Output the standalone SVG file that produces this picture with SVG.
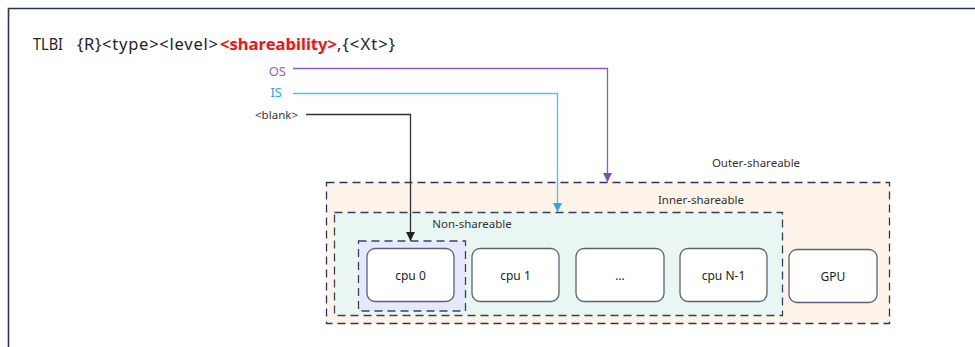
<svg xmlns="http://www.w3.org/2000/svg" width="975" height="347" viewBox="0 0 975 347">
  <defs>
    <marker id="arr-os" viewBox="0 0 10 10" refX="10" refY="5" markerWidth="7" markerHeight="7" orient="auto">
      <path d="M0,0 L10,5 L0,10 z" fill="#7b4db3"/>
    </marker>
    <marker id="arr-is" viewBox="0 0 10 10" refX="10" refY="5" markerWidth="7" markerHeight="7" orient="auto">
      <path d="M0,0 L10,5 L0,10 z" fill="#29ace3"/>
    </marker>
    <marker id="arr-nsh" viewBox="0 0 10 10" refX="10" refY="5" markerWidth="7" markerHeight="7" orient="auto">
      <path d="M0,0 L10,5 L0,10 z" fill="#222"/>
    </marker>
  </defs>
  <style>
    text { font-family: "Noto Sans", "Open Sans", "Liberation Sans", sans-serif; }
    .frame { stroke: #283163; stroke-width: 1.6; fill: none; }
    .domain { stroke-dasharray: 8 5; stroke-width: 1.3; }
    .dlabel { font-size: 11.5px; fill: #333; text-anchor: middle; }
    .core rect { fill: #fff; stroke: #5c6078; stroke-width: 1.3; }
    .core text { font-size: 12px; fill: #222; text-anchor: middle; }
    .conn { fill: none; stroke-width: 1.3; }
  </style>

  <rect width="975" height="347" fill="#fff"/>
  <path class="frame" d="M8.5,347 V8.5 H975"/>

  <!-- instruction syntax -->
  <g id="syntax" font-size="16.5" fill="#222">
    <text x="33" y="50" textLength="30" lengthAdjust="spacingAndGlyphs">TLBI</text>
    <text x="77" y="50" textLength="141" lengthAdjust="spacing">{R}&lt;type&gt;&lt;level&gt;</text>
    <text x="220" y="50" fill="#f01414" font-weight="bold" textLength="117" lengthAdjust="spacing">&lt;shareability&gt;</text>
    <text x="337" y="50" textLength="58" lengthAdjust="spacing">,{&lt;Xt&gt;}</text>
  </g>

  <!-- shareability option labels -->
  <g id="opt-os"><text x="286" y="76" font-size="13" fill="#9662c6" text-anchor="end">OS</text></g>
  <g id="opt-is"><text x="282" y="97" font-size="13" fill="#2aa9e0" text-anchor="end">IS</text></g>
  <g id="opt-blank"><text x="255" y="119" font-size="11.5" fill="#333" textLength="43" lengthAdjust="spacing">&lt;blank&gt;</text></g>

  <!-- shareability domains -->
  <g id="outer-shareable">
    <rect class="domain" x="326.5" y="182.5" width="563" height="141" fill="#fdf3e8" stroke="#2f3558"/>
    <text class="dlabel" x="756" y="167">Outer-shareable</text>
  </g>
  <g id="inner-shareable">
    <rect class="domain" x="334.5" y="212.5" width="448" height="103" fill="#e9f6f2" stroke="#3a4062"/>
    <text class="dlabel" x="701" y="204">Inner-shareable</text>
  </g>
  <g id="non-shareable">
    <text class="dlabel" x="472" y="228">Non-shareable</text>
    <rect class="domain" x="358.5" y="241" width="107" height="70" fill="#e6e8fb" stroke="#3a4062"/>
  </g>

  <!-- processing elements -->
  <g id="cpu0" class="core"><rect x="367" y="248.5" width="87" height="53" rx="8"/><text x="410.5" y="280">cpu 0</text></g>
  <g id="cpu1" class="core"><rect x="472" y="248.5" width="87" height="53" rx="8"/><text x="515.5" y="280">cpu 1</text></g>
  <g id="cpu-more" class="core"><rect x="576" y="248.5" width="88" height="53" rx="8"/><text x="620" y="280">...</text></g>
  <g id="cpuN" class="core"><rect x="680" y="248.5" width="87" height="53" rx="8"/><text x="723.5" y="280">cpu N-1</text></g>
  <g id="gpu" class="core"><rect x="789" y="249.5" width="88" height="53" rx="8"/><text x="833" y="281">GPU</text></g>

  <!-- option-to-domain connectors -->
  <g id="connectors">
    <path class="conn" d="M293,68.5 H607.5 V182" stroke="#8a5cc2" marker-end="url(#arr-os)"/>
    <path class="conn" d="M293,93.5 H557.5 V212" stroke="#4cc3ee" marker-end="url(#arr-is)"/>
    <path class="conn" d="M306,114.5 H410.5 V241" stroke="#333" marker-end="url(#arr-nsh)"/>
  </g>
</svg>
